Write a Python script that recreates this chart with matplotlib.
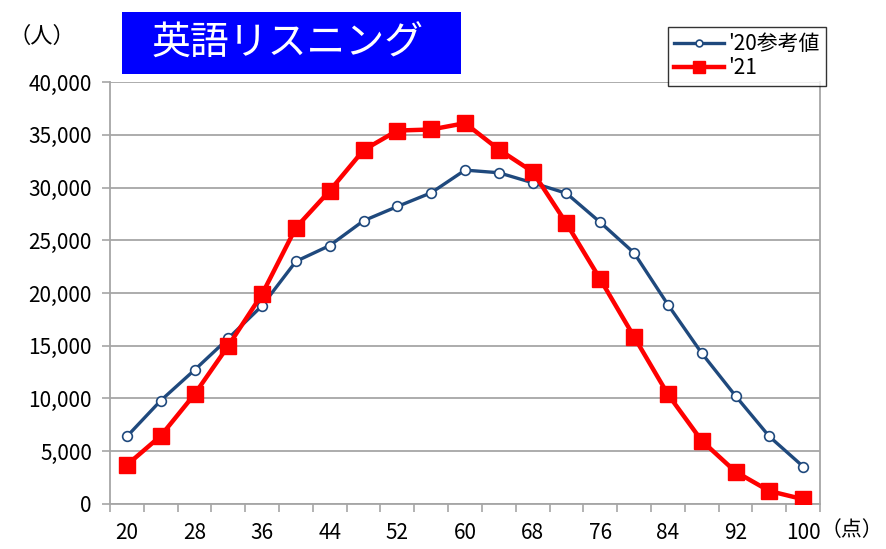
import numpy as np
import matplotlib.pyplot as plt
from matplotlib.patches import Rectangle

plt.rcParams['font.family'] = ['Noto Sans CJK JP', 'DejaVu Sans']

# 得点 (点)
scores = [20, 24, 28, 32, 36, 40, 44, 48, 52, 56, 60,
          64, 68, 72, 76, 80, 84, 88, 92, 96, 100]
# '20参考値 (人)
ref20 = [6400, 9800, 12700, 15700, 18800, 23000, 24500, 26850, 28200, 29500, 31650,
         31400, 30450, 29450, 26700, 23800, 18900, 14300, 10250, 6400, 3550]
# '21 (人)
y21 = [3700, 6450, 10400, 15000, 19900, 26200, 29700, 33550, 35400, 35500, 36100,
       33600, 31500, 26600, 21300, 15850, 10400, 6000, 3060, 1230, 450]
yticks = np.arange(0, 40001, 5000)

fig = plt.figure(figsize=(8.87, 5.49), dpi=100)
ax = fig.add_axes([0.124, 0.082, 0.8005, 0.7686])

x = np.arange(len(scores))
ax.plot(x, ref20, color='#1F497D', lw=2.4, marker='o', ms=7,
        mfc='white', mec='#1F497D', mew=1.2, label="'20参考値", zorder=3)
ax.plot(x, y21, color='#FF0000', lw=3.2, marker='s', ms=12,
        mfc='#FF0000', mec='#FF0000', label="'21", zorder=4)

ax.set_xlim(-0.5, len(scores) - 0.5)
ax.set_ylim(0, 40000)
ax.set_yticks(yticks)
ax.set_yticklabels([f'{v:,}' for v in yticks])
ax.yaxis.grid(True, color='#A6A6A6', lw=1.3)
ax.set_axisbelow(True)

ax.set_xticks(x[::2])
ax.set_xticklabels([str(s) for s in scores[::2]])
ax.set_xticks(np.arange(-0.5, len(scores), 1), minor=True)
ax.tick_params(axis='x', which='major', length=0, pad=13, labelsize=15)
ax.tick_params(axis='x', which='minor', length=6, color='#A6A6A6', width=1.2)
ax.tick_params(axis='y', length=6, color='#A6A6A6', width=1.2, labelsize=15, pad=7)

for side in ['left', 'right', 'bottom']:
    ax.spines[side].set_color('#A6A6A6')
    ax.spines[side].set_linewidth(1.3)
ax.spines['top'].set_visible(False)

fig.text(0.047, 0.933, '（人）', fontsize=16, ha='center', va='center')
fig.text(0.996, 0.035, '（点）', fontsize=15, ha='right', va='center')

fig.patches.append(Rectangle((122 / 887, 1 - 74 / 549), 339 / 887, 62 / 549,
                             transform=fig.transFigure, facecolor='#0000FF',
                             edgecolor='none'))
fig.text(288 / 887, 1 - 44 / 549, '英語リスニング', fontsize=28, color='white',
         ha='center', va='center')

leg = ax.legend(loc='upper right', bbox_to_anchor=(826 / 887, 1 - 27 / 549),
                bbox_transform=fig.transFigure, fontsize=15, frameon=True,
                fancybox=False, edgecolor='black', borderaxespad=0,
                handlelength=2.4, handletextpad=0.2, markerscale=0.7,
                labelspacing=0.1, borderpad=0.3)
leg.get_frame().set_linewidth(1.0)

fig.savefig('out.png', dpi=100)
